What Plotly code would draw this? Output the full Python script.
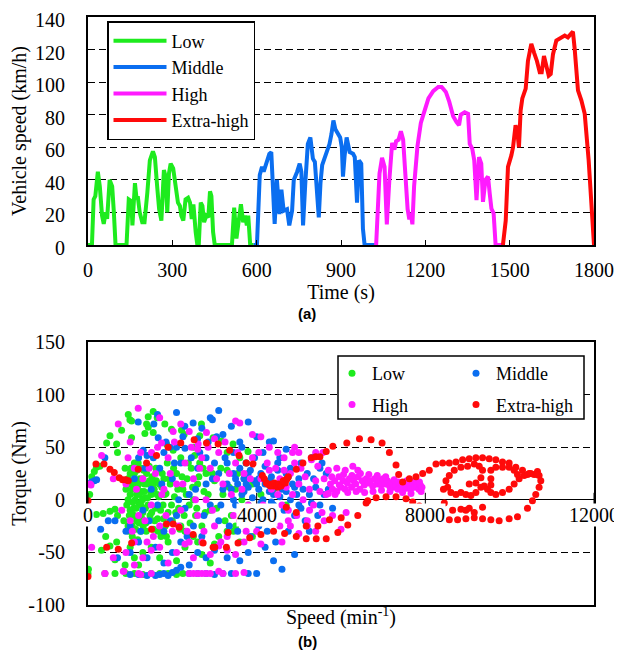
import plotly.graph_objects as go

# ---------------- (a) WLTC vehicle speed profile: (time s, speed km/h) ----------------
LOW_PHASE = [(0,0),(14,0),(20,28),(26,30),(35,45),(42,36),(50,18),(56,13),(63,20),(68,16),(77,40),(86,36),
             (92,20),(98,0),(137,0),(145,28),(154,27),(158,12),(167,38),(173,28),(177,30),(184,20),(193,14),
             (201,14),(211,32),(220,52),(231,57.5),(238,54),(246,36),(253,22),(261,15),(270,46),(276,42),
             (282,20),(288,44),(294,50),(303,47),(312,36),(320,26),(327,24),(332,18),(339,15),(347,28),(356,29),
             (363,26),(369,16),(375,25),(383,8),(389,0),(394,0),(401,26),(407,24),(413,14),(421,18),(428,17),
             (434,33),(439,30),(445,8),(451,0),(512,0),(520,23),(528,4),(536,16),(544,25),(552,14),(559,18),
             (565,12),(570,18),(577,0),(589,0)]
MIDDLE_PHASE = [(589,0),(601,0),(611,43),(619,48),(625,45),(634,51),(645,56),(652,57),(658,38),(664,13),(672,40),
                (681,19),(688,34),(696,21),(708,22),(716,12),(726,21),(732,40),(744,45),(753,50),(759,45),(765,12),
                (773,38),(782,62),(791,66),(800,53),(807,51),(813,38),(821,17),(827,38),(833,49),(841,53),(851,58),
                (859,62),(866,68),(873,76.5),(880,71),(888,69),(897,66),(903,60),(907,42),(913,55),(920,66),(931,57),
                (943,56),(949,54),(957,26),(964,52),(972,50),(978,10),(984,0),(1022,0)]
HIGH_PHASE = [(1022,0),(1025,0),(1037,44),(1046,53.5),(1055,48),(1063,12.7),(1072,40),(1082,62.7),(1090,58.6),
              (1096,63.7),(1105,64.7),(1113,69.8),(1121,64.7),(1128,44),(1137,22),(1143,15.7),(1148,19.8),(1154,12.7),
              (1160,36),(1172,60.6),(1184,75),(1193,80),(1211,90),(1228,94.5),(1246,97),(1258,97),(1273,94),(1285,88),
              (1299,79),(1311,75.5),(1320,73.5),(1326,80),(1340,81.5),(1352,80.6),(1358,62),(1367,59),(1374,52),
              (1382,27.5),(1391,54),(1399,50),(1405,26.5),(1414,40),(1423,42),(1429,31.6),(1435,22.4),(1443,19.4),
              (1450,0),(1474,0)]
EXTRA_HIGH_PHASE = [(1474,0),(1476,0),(1486,15),(1494,48),(1506,55),(1512,60),(1521,73.5),(1527,70),(1533,60),
                    (1539,82.6),(1545,90),(1557,96),(1565,113),(1577,123.5),(1587,118),(1597,113),(1607,106),(1614,106),
                    (1622,116),(1631,109),(1639,104),(1646,105),(1654,117),(1666,125.5),(1678,126.5),(1687,127.5),
                    (1696,128.6),(1707,127.5),(1719,129.6),(1725,131),(1731,121),(1743,95),(1755,88.8),(1767,80.6),
                    (1781,52),(1793,19.4),(1800,0)]

# ---------------- (b) operating points: (speed min-1, torque Nm) ----------------
LOW_POINTS = [(10,-66),(0,-70),(40,5),(50,15),(90,22),(150,27),(200,31),(280,32),(50,-13),(200,-14),(360,-13),
              (520,-11),(640,-9),(700,-15),(420,-35),(320,-48),(520,-44),(680,-40),(640,-57),(880,-62),
              (400,-70),(640,-70),(900,-70),(1100,-70),(1300,-71),(1500,-70),(1700,-70),(1900,-70),(2100,-71),(2250,-70),
              (955,81),(994,76),(1034,75),(1389,72),(1428,79),(1546,84),(1641,78),(1428,69),(1546,64),(1822,72),
              (1980,67),(2280,62),(2690,72),(2217,66),(2651,61),(2967,59),(3164,56),(3440,53),(3795,46),(521,61),
              (442,54),(679,53),(797,66),(1034,59),(1349,63),(1862,53),(700,45),(2020,47),(2500,50),(3300,45),(3600,40),
              (900,10),(920,-5),(950,20),(980,-15),(1000,5),(1020,30),(1050,-25),(1060,15),(1080,-8),(1100,25),
              (1120,0),(1150,-20),(1170,12),(1190,35),(1200,-3),(1230,20),(1250,-30),(1270,8),(1300,-12),(1320,28),
              (1350,2),(1370,-22),(1400,15),(1420,-5),(1450,32),(1470,-15),(1500,5),(1520,22),(1550,-28),(1570,10),
              (1600,-8),(1620,18),(1650,-18),(1680,3),(1700,28),(1730,-35),(1750,12),(1780,-5),(1800,20),(1830,-25),
              (1850,6),(1880,35),(1900,-12),(1950,15),(2000,-20),(2050,3),(2100,25),(2150,-8),(2200,40),(2250,10),
              (2300,-30),(2350,20),(2400,-5),(2450,30),(2500,0),(2550,-15),(2600,15),(2650,35),(2700,-25),(2750,8),
              (2800,25),(2900,-10),(3000,18),(3100,-35),(3200,5),(3300,28),(3400,-15),(3500,10),(3600,-40),(3700,20),
              (3800,-5),(3900,15),(4000,-10),(4100,5),(4200,-20),(4400,10),(4700,-5),
              (950,0),(1000,-10),(1050,10),(1100,-15),(1150,5),(1200,15),(1250,-5),(1300,20),(1000,25),(1100,35),
              (950,-25),(1050,-35),(1130,-28),(1180,-38),(1280,-18),(1330,8),(1380,-30),(1460,18),(1010,15),(1210,-22),
              (1000,-45),(1100,-55),(1200,-62),(1300,-50),(1500,-45),(1700,-55),(1900,-40),(2100,-58),(2300,-45),
              (2500,-35),(2700,-52),(3000,-42),(3300,-30),(2900,-60),(2200,-25),(2600,-40),(3500,-25),(3900,-35),
              (850,-20),(880,30),(920,18),(970,-30),(1030,-12),(1060,-2),(1090,18),(1140,-8),(1160,28),(1220,5),
              (1240,-15),(1260,30),(1290,0),(1310,-25),(1340,15),(1360,-8),(1390,25),(1410,2),(1440,-20),(1480,8),
              (1510,-12),(1540,15),(1580,-20),(1610,30),(1640,5),(1660,-30),(1690,15),(1720,-10),(1760,25),(1790,-18),
              (1820,5),(1860,-35),(1920,20),(1980,-5),(2030,30),(2080,-12),(2130,10),(2180,-28),(2230,22),(2280,-15),
              (2330,5),(2380,35),(2420,-22),(2480,12),(2530,42),(2580,-8),(2630,22),(2680,-40),(2730,30),(2780,-12),
              (2850,5),(2950,25),(3050,-8),(3150,30),(3250,-20),(3350,12),(3450,-30),(3550,25),(3650,0),(3750,35)]
MIDDLE_POINTS = [(150,18),(205,19),(80,17),(400,40),(481,-20),(640,-20),(300,-28),(900,-30),(700,-55),
                 (1191,74),(1649,81),(2099,83),(2296,70),(2493,73),(1562,72),(1310,47),(1665,59),(1941,50),(2100,50),
                 (2300,49),(3100,85),(2900,78),(2950,76),(3400,70),(3800,74),(4000,60),(4300,55),(4400,56),(4700,48),
                 (3600,55),(3200,62),(2700,68),(2600,58),(1400,42),(1800,45),
                 (3400,10),(3450,25),(3500,-5),(3550,15),(3600,30),(3650,5),(3700,20),(3750,-10),(3800,12),(3850,28),
                 (3900,2),(3950,18),(4000,-8),(4050,10),(4100,25),(4150,0),(4200,15),(4250,-12),(4300,8),(4350,22),
                 (4400,-5),(4450,12),(4500,28),(4550,3),(4600,18),(4650,-10),(4700,8),(4750,22),(4800,0),(4850,15),
                 (4900,-15),(4950,5),(5000,20),(5050,-8),(5100,10),(5200,25),(5300,-3),(5400,12),(5500,30),(5600,5),
                 (5450,-15),(5150,-20),(3600,-15),(3900,-20),(4200,32),(4500,35),(4800,30),(5300,40),(5400,42),(5550,35),
                 (3500,20),(3700,8),(3800,25),(4000,15),(4100,-3),(4300,18),(4400,5),(4600,10),(4700,25),(4900,12),
                 (3300,15),(3450,0),(3750,15),(4050,20),(4350,-2),(4650,15),(5000,-5),(5250,5),(5700,10),(5800,-8),
                 (1000,-25),(1200,40),(1300,-10),(1500,10),(1700,30),(1800,-30),(2000,20),(2100,-15),(2200,35),
                 (2400,5),(2500,-25),(2600,30),(2800,15),(2900,-5),(3000,35),(3100,25),(3200,10),(3300,35),(2700,-35),
                 (3100,-20),(2300,-8),(2800,40),
                 (1000,-50),(1200,-40),(1400,-55),(1600,-45),(1800,-60),(2000,-50),(2200,-40),(2400,-62),(2600,-50),
                 (2800,-55),(3000,-48),(3300,-55),(3600,-58),(3800,-50),(4200,-45),(4400,-58),(4600,-66),(4900,-52),
                 (1000,-71),(1200,-71),(1400,-72),(1600,-72),(1700,-71),(1800,-70),(1900,-72),(2000,-69),(2100,-67),
                 (2200,-64),(2400,-70),(2600,-70),(2800,-70),(3000,-71),(3200,-70),(3400,-70),(3800,-70),(4000,-70),
                 (1100,20),(1250,-30),(1350,30),(1450,-20),(1550,40),(1650,-5),(1750,15),(1850,55),(1950,-20),(2050,35),
                 (2150,0),(2250,60),(2350,-35),(2450,40),(2550,10),(2650,45),(2750,-15),(2850,55),(2950,20),(3050,60),
                 (3150,-5),(3250,40),(3350,-25),(3450,45),(3550,-30),(3650,50),(3750,35),(3850,-35),(3950,40),(4050,-25),
                 (4150,45),(4250,-30),(4450,-40),(4550,40),(4750,-30),(5050,35),(5250,-30),(5350,20),(5500,-5),(5650,25)]
HIGH_POINTS = [(71,14),(47,15),(87,-45),(323,42),(402,-70),(836,-68),(600,20),(1100,-40),
               (1191,87),(718,72),(2020,65),(2809,64),(2612,53),(1744,54),(1507,45),(1700,78),(2200,72),(2400,65),
               (3000,58),(3500,75),(3600,73),(3900,62),(4100,60),(4300,50),(4500,45),(4900,50),(1000,55),(2600,48),
               (800,-10),(900,15),(1000,-20),(1100,30),(1200,-15),(1300,20),(1400,-40),(1500,-5),(1600,25),(1700,-25),
               (1800,10),(1900,40),(2000,-30),(2100,15),(2200,-10),(2300,35),(2400,-40),(2500,20),(2600,-15),(2700,40),
               (2800,0),(2900,30),(3000,-25),(3100,45),(3200,15),(3300,-35),(3400,5),(3500,35),(3600,-20),(3700,25),
               (3800,-5),(3900,40),(4000,-30),(4100,20),(4200,-10),(4300,28),(4400,-20),
               (600,-55),(900,-50),(1100,-62),(1300,-55),(1500,-48),(1700,-45),(1900,-60),(2100,-50),(2300,-42),
               (2500,-55),(2700,-40),(2900,-52),(3100,-44),(3300,-48),(3500,-52),(3700,-40),(4100,-42),(4600,-40),
               (400,-70),(850,-68),(1200,-70),(1250,-71),(1500,-70),(2400,-70),(2500,-70),(2600,-70),(2700,-70),
               (2800,-70),(2900,-70),(3100,-68),(3200,-70),(3500,-70),(3700,-69),
               (4500,5),(4550,20),(4600,-5),(4650,28),(4700,12),(4750,-10),(4800,25),(4850,5),(4900,35),(4950,-15),
               (5000,15),(5050,30),(5100,0),(5150,22),(5200,-20),(5250,10),(5300,38),(5350,-5),(5400,18),(5450,32),
               (5500,8),(5550,-12),(5600,20),(5650,5),(5700,28),(5750,15),(5800,10),(5850,18),(5900,8),(5950,22),
               (6000,12),(6050,18),(6100,10),(6150,16),(6200,20),(6250,12),(6300,18),(6350,15),(6400,22),(6450,10),
               (6500,18),(6550,14),(6600,20),(6650,16),(6700,18),(6750,13),(6800,20),(6850,15),(6900,19),(6950,14),
               (7000,20),(7050,15),(7100,18),(7150,13),(7200,16),(7250,12),(7300,14),(7350,10),(7400,15),(7450,12),
               (7500,16),(7550,11),(7600,14),(7650,10),(7700,16),(7750,12),(7800,13),(7850,10),(7880,14),
               (5700,6),(5780,22),(5860,5),(5960,14),(6060,24),(6160,7),(6260,23),(6360,8),(6460,25),(6560,7),
               (6660,24),(6760,8),(6860,23),(6960,9),(7060,22),(7160,8),(7260,19),(7360,17),(7460,7),(7560,18),
               (7660,6),(7760,18),(7860,17),(7900,8),(7920,12),
               (5200,-25),(5400,-30),(5600,-20),(5800,-15),(6000,-28),(5000,45),(5400,45),(5570,45),(6280,32),
               (6400,28),(6122,-12),(5254,-10),(5900,30),(6100,28),(4800,-25),(5000,-32),
               (950,40),(1050,-30),(1150,10),(1250,45),(1350,-20),(1450,30),(1550,-35),(1650,50),(1750,5),(1850,-15),
               (1950,25),(2050,55),(2150,-25),(2250,15),(2350,-30),(2450,50),(2550,0),(2650,30),(2750,-30),(2850,50),
               (2950,-10),(3050,20),(3150,-40),(3250,55),(3350,25),(3450,-15),(3550,45),(3650,10),(3750,-30),(3850,20),
               (3950,-15),(4050,45),(4150,-5),(4250,35),(4350,10),(4450,30),(4550,-25),(4650,40),(4750,-20),(4850,45)]
EXTRA_HIGH_POINTS = [(0,-1),(0,-73),(189,34),(379,34),(521,29),(623,26),(742,21),(820,19),(892,19),(955,18),(1191,29),
                     (1389,35),(1625,42),(1900,50),(2200,54),(2517,57),(2809,54),(3085,53),(3361,47),(3582,42),(3756,35),
                     (3913,34),(4134,23),(4229,16),(4300,14),(4350,15),(4400,13),(4450,14),(4500,12),(4550,13),(4600,15),
                     (4650,17),(4700,19),(4750,22),(4939,29),(5097,35),(5294,40),(5400,41),(5500,41),(5649,46),(5807,51),
                     (6138,54),(6438,58),(6714,57),(6974,54),(7148,45),(7305,33),(7368,24),(7463,17),(7621,20),
                     (7779,22),(7937,25),(8094,28),(8252,34),(8410,35),(8568,35),(8726,36),(8884,38),(9041,39),(9199,40),
                     (9357,40),(9515,39),(9672,38),(9830,36),(9988,35),(10146,31),(10304,28),(10461,25),(10659,27),
                     (10698,23),(10738,18),(10698,12),(10619,5),(10540,-1),(10422,-8),(10185,-16),(9988,-18),(9751,-20),
                     (9554,-19),(9357,-18),(9160,-17),(8962,-18),(8765,-19),(8568,-19),
                     (8489,18),(8528,12),(8607,7),(8726,5),(8844,7),(8962,5),(9081,4),(9199,7),(9318,12),(9396,13),
                     (9475,10),(9554,7),(9672,5),(9830,7),(9988,10),(10106,15),(10225,20),(10343,23),(10422,24),
                     (10500,25),(10580,24),(10650,24),(8568,23),(8686,28),(8844,31),(9002,32),(9160,34),(9278,32),
                     (9357,28),(9318,21),(9199,16),(9041,15),(9554,28),(9672,31),(9830,31),(9988,31),(10106,28),
                     (10185,24),(9554,20),(9554,14),(8647,-10),(8844,-9),(8962,-10),(9041,-8),(9160,-12),(9357,-7),
                     (8450,-3),(8430,10),
                     (6635,-1),(6832,2),(7068,3),(7305,3),(7542,1),(7700,-2),(7858,-6),(8015,-10),(8094,-11),(6596,-3),
                     (6398,-15),(6161,-24),(5925,-31),(5650,-37),(5413,-37),(5176,-37),(4939,-35),(4663,-32),(4400,-30),
                     (4100,-33),(3835,-36),(3558,-41),(3282,-45),(3006,-45),(2730,-41),(2493,-33),(2162,-26),(2020,-23),
                     (1862,-23),(1507,-28),(1034,-41),(718,-47),(442,-45),(6004,-17),(5727,-19),(5452,-25),(5176,-25),
                     (4939,-12),(3322,-31),(2967,-45),(4702,-7),
                     (4180,20),(4260,15),(4330,13),(4420,16),(4480,14),(4520,15),(4580,13),(4630,18),(4680,16),(4720,20)]

PHASE_NAMES = ["Low", "Middle", "High", "Extra-high"]
COLORS = ["#1EEB1E", "#0A6EF0", "#FF1AFF", "#FF0A0A"]
X_TICKS_B = [0, 4000, 8000, 12000]
Y_TICKS_A = [0, 20, 40, 60, 80, 100, 120, 140]
Y_TICKS_B = [-100, -50, 0, 50, 100, 150]
SCATTER_LEGENDS = ["legend2", "legend3", "legend2", "legend3"]

# page body has an 8 px margin: figure occupies window pixels 8..622 x 8..660
OFF = 8
W, H = 622 - OFF, 660 - OFF
def fx(px):
    return (px - OFF) / W
def fy(py):
    return 1 - (py - OFF) / H

fig = go.Figure()
for name, col, seg in zip(PHASE_NAMES, COLORS, [LOW_PHASE, MIDDLE_PHASE, HIGH_PHASE, EXTRA_HIGH_PHASE]):
    t, v = zip(*seg)
    fig.add_trace(go.Scatter(x=list(t), y=list(v), mode="lines", name=name,
                             line=dict(color=col, width=4), xaxis="x", yaxis="y", legend="legend"))
for name, col, pts, lg in zip(PHASE_NAMES, COLORS, [LOW_POINTS, MIDDLE_POINTS, HIGH_POINTS, EXTRA_HIGH_POINTS],
                              SCATTER_LEGENDS):
    s, q = zip(*pts)
    fig.add_trace(go.Scatter(x=list(s), y=list(q), mode="markers", name=name, legendgroup=name,
                             marker=dict(color=col, size=7), xaxis="x2", yaxis="y2", legend=lg))
# small tick marks on the torque zero line (x axis crossing at 0)
fig.add_trace(go.Scatter(x=X_TICKS_B, y=[0] * len(X_TICKS_B), mode="markers", xaxis="x2", yaxis="y2",
                         marker=dict(symbol="line-ns", size=10, line=dict(color="black", width=1)),
                         showlegend=False, hoverinfo="skip", cliponaxis=False))

xd = [fx(88), fx(594)]
yd_a = [fy(245), fy(17)]
yd_b = [fy(605), fy(342)]

FONT = "Liberation Serif"
FS = 20
LFS = 18
axis_common = dict(showline=True, linecolor="black", linewidth=2, mirror=True, zeroline=False, automargin=False,
                   ticklabeloverflow="allow", tickfont=dict(size=FS, color="black", family=FONT))
grid = dict(showgrid=True, gridcolor="black", gridwidth=1, griddash="7px,4px")

leg_common = dict(xanchor="left", yanchor="top", bgcolor="rgba(0,0,0,0)", borderwidth=0,
                  font=dict(size=LFS, family=FONT, color="black"), tracegroupgap=5)

fig.update_layout(
    width=W, height=H, margin=dict(l=0, r=0, t=0, b=0, pad=0, autoexpand=False),
    paper_bgcolor="white", plot_bgcolor="white",
    font=dict(family=FONT, size=FS, color="black"),
    xaxis=dict(domain=xd, range=[0, 1800], tickvals=list(range(0, 1801, 300)), ticks="inside", ticklen=5,
               tickcolor="black", showgrid=False, anchor="y", ticklabelstandoff=6,
               title=dict(text="Time (s)", standoff=0, font=dict(size=FS, family=FONT)), **axis_common),
    yaxis=dict(domain=yd_a, range=[0, 140], tickvals=Y_TICKS_A, ticktext=[str(v) for v in Y_TICKS_A],
               anchor="x", ticks="", ticklabelstandoff=17, ticklabelshift=3,
               title=dict(text="Vehicle speed (km/h)", standoff=6, font=dict(size=FS, family=FONT)),
               **grid, **axis_common),
    xaxis2=dict(domain=xd, range=[0, 12000], anchor="y2", ticks="", showticklabels=False, showgrid=False,
                title=dict(text="Speed (min<sup>-1</sup>)", standoff=4, font=dict(size=FS, family=FONT)),
                **axis_common),
    yaxis2=dict(domain=yd_b, range=[-100, 150], tickvals=Y_TICKS_B, ticktext=[str(v) for v in Y_TICKS_B],
                anchor="x2", ticks="", ticklabelstandoff=17, ticklabeloverflow="allow",
                title=dict(text="Torque (Nm)", standoff=6, font=dict(size=FS, family=FONT)), **grid,
                showline=True, linecolor="black", linewidth=2, mirror=True, automargin=False,
                zeroline=True, zerolinecolor="black", zerolinewidth=1,
                tickfont=dict(size=FS, color="black", family=FONT)),
    legend=dict(x=fx(107), y=fy(21), xanchor="left", yanchor="top", bgcolor="white",
                bordercolor="black", borderwidth=1.5, font=dict(size=LFS, family=FONT, color="black"),
                itemwidth=53, tracegroupgap=0),
    legend2=dict(x=fx(332), y=fy(355), **leg_common),
    legend3=dict(x=fx(456), y=fy(355), **leg_common),
    showlegend=True,
    shapes=[dict(type="rect", xref="paper", yref="paper", x0=fx(338), x1=fx(584),
                 y0=fy(419), y1=fy(356), line=dict(color="black", width=1.5),
                 fillcolor="white", layer="above")],
)

annotations = []
for tv in X_TICKS_B:
    annotations.append(dict(x=tv, y=0, xref="x2", yref="y2", text=str(tv), showarrow=False,
                            xanchor="center", yanchor="top", yshift=-3, bgcolor="white", borderpad=0,
                            font=dict(size=FS, family=FONT, color="black")))
annotations.append(dict(x=fx(307), y=fy(314), xref="paper", yref="paper", text="<b>(a)</b>",
                        showarrow=False, font=dict(size=15, family="Liberation Sans", color="black")))
annotations.append(dict(x=fx(307), y=fy(652), xref="paper", yref="paper", text="<b>(b)</b>",
                        showarrow=False, font=dict(size=15, family="Liberation Sans", color="black")))
fig.update_layout(annotations=annotations)

fig.write_html("out.html")
